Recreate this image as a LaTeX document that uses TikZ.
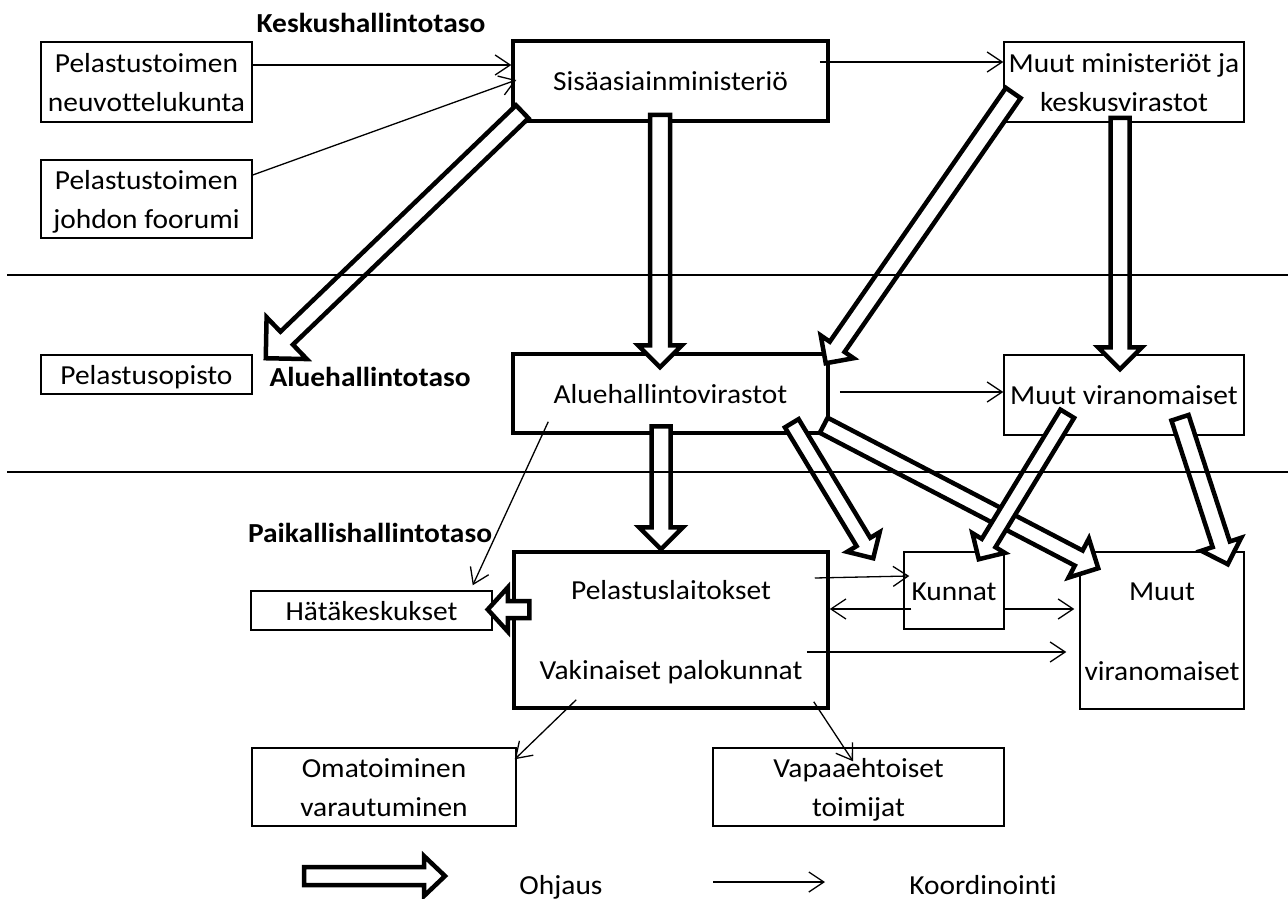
\documentclass[tikz,border=0pt]{standalone}
\usepackage{fontspec}
\setmainfont{Carlito}[FakeStretch=1.07,Ligatures=NoCommon]
\usetikzlibrary{calc,arrows.meta}
\newcommand{\zs}{\rule[-10pt]{0pt}{39pt}}
\newcommand{\blockarrow}[5]{%
  \draw[blockarr] let \p1=($(#2)-(#1)$), \n1={veclen(\x1,\y1)}, \n2={atan2(\y1,\x1)} in
    ([shift={(#1)},rotate=\n2]0pt,#3pt)
 -- ([shift={(#1)},rotate=\n2]{\n1-#5pt},#3pt)
 -- ([shift={(#1)},rotate=\n2]{\n1-#5pt},#4pt)
 -- ([shift={(#1)},rotate=\n2]{\n1-0pt},0pt)
 -- ([shift={(#1)},rotate=\n2]{\n1-#5pt},-#4pt)
 -- ([shift={(#1)},rotate=\n2]{\n1-#5pt},-#3pt)
 -- ([shift={(#1)},rotate=\n2]0pt,-#3pt) -- cycle;}
\begin{document}
\begin{tikzpicture}[x=1pt,y=-1pt,
  txt/.style={font=\fontsize{27.5pt}{39pt}\selectfont, inner sep=0pt, align=center},
  lvl/.style={txt, font=\fontsize{27.5pt}{39pt}\selectfont\bfseries},
  thinbox/.style={txt, draw, rectangle, line width=1.5pt},
  thickbox/.style={txt, draw, rectangle, line width=3.5pt},
  coord/.style={line width=1.3pt, -{Straight Barb[length=15pt,width=20pt]}},
  blockarr/.style={line width=4.5pt, draw=black, fill=white, line join=miter, miter limit=10},
  sep/.style={line width=1.5pt}]
\fill[white] (0,0) rectangle (1288,899);
\useasboundingbox (0,0) rectangle (1288,899);

% level labels
\node[lvl] (kesk) at (371,23) {\zs Keskushallintotaso};
\node[lvl] (alue) at (370,377) {\zs Aluehallintotaso};
\node[lvl] (paik) at (370,533) {\zs Paikallishallintotaso};

% boxes
\node[thinbox, minimum width=211pt, minimum height=80pt] (neuv) at (146.5,82) {\zs Pelastustoimen\\\zs neuvottelukunta};
\node[thinbox, minimum width=211pt, minimum height=78pt] (foor) at (146.5,199) {\zs Pelastustoimen\\\zs johdon foorumi};
\node[thinbox, minimum width=211pt, minimum height=39pt] (opisto) at (146.5,374.5) {\zs Pelastusopisto};
\node[thickbox, minimum width=315pt, minimum height=80pt] (sm) at (670.5,81) {\zs Sisäasiainministeriö};
\node[thinbox, minimum width=240pt, minimum height=80pt] (mm) at (1124,82) {\zs Muut ministeriöt ja\\\zs keskusvirastot};
\node[thickbox, minimum width=315pt, minimum height=79pt] (av) at (670.5,393.5) {\zs Aluehallintovirastot};
\node[thinbox, minimum width=240pt, minimum height=80pt] (mv) at (1124,395) {\zs Muut viranomaiset};
\node[thinbox, minimum width=241pt, minimum height=39pt] (hk) at (371.5,610.5) {\zs Hätäkeskukset};
\node[thickbox, minimum width=314pt, minimum height=156pt] (pl) at (671,630) {\zs Pelastuslaitokset\\[41pt]\zs Vakinaiset palokunnat};
\node[thinbox, minimum width=100pt, minimum height=77pt] (ku) at (954,590.5) {\zs Kunnat};
\node[thinbox, minimum width=164pt, minimum height=157pt] (mu) at (1162,630.5) {\zs Muut\\[41pt]\zs viranomaiset};
\node[thinbox, minimum width=264pt, minimum height=78pt] (om) at (384,787) {\zs Omatoiminen\\\zs varautuminen};
\node[thinbox, minimum width=291pt, minimum height=78pt] (va) at (858.5,787) {\zs Vapaaehtoiset\\\zs toimijat};

% legend texts
\node[txt] (ohj) at (561,885) {\zs Ohjaus};
\node[txt] (koo) at (983,885) {\zs Koordinointi};

% block arrow end points
\coordinate (b1s) at ($(sm.south west)+(11,-11)$);
\coordinate (b1e) at ($(opisto.north east)+(13,4)$);
\coordinate (b2s) at ($(sm.south)+(-10.5,-8)$);
\coordinate (b2e) at ($(av.north)+(-10.5,15)$);
\coordinate (b3s) at ($(mm.west)+(10,11)$);
\coordinate (b3e) at ($(av.north east)+(-4,11)$);
\coordinate (b4s) at ($(mm.south)+(-4,-5)$);
\coordinate (b4e) at ($(mv.north)+(-4,15)$);
\coordinate (b5s) at ($(av.south)+(-9.5,-8.5)$);
\coordinate (b5e) at ($(pl.north)+(-10,-1)$);
\coordinate (b6s) at ($(pl.west)+(17,-20.5)$);
\coordinate (b6e) at ($(hk.east)+(-5,-1)$);
\coordinate (b7s) at ($(av.south east)+(-38,-11.5)$);
\coordinate (b7e) at ($(ku.north west)+(-30,7)$);
\coordinate (b8s) at ($(av.south east)+(-6,-9.5)$);
\coordinate (b8e) at ($(mu.north west)+(19,17)$);
\coordinate (b9s) at ($(mv.south west)+(64,-22)$);
\coordinate (b9e) at ($(ku.north east)+(-26,8)$);
\coordinate (b10s) at ($(mv.south)+(56,-18)$);
\coordinate (b10e) at ($(mu.north east)+(-17,13)$);
\coordinate (lgs) at (304,876);
\coordinate (lge) at (445,876);

% block arrows (Ohjaus)
\blockarrow{b1s}{b1e}{9}{29}{29}
\blockarrow{b2s}{b2e}{10}{22}{22}
\blockarrow{b3s}{b3e}{9}{20}{20}
\blockarrow{b4s}{b4e}{9.5}{22}{22}
\blockarrow{b5s}{b5e}{9.5}{22}{22}
\blockarrow{b6s}{b6e}{8.5}{22}{20}
\blockarrow{b7s}{b7e}{8}{19}{19}
\blockarrow{b8s}{b8e}{8.5}{22}{22}
\blockarrow{b9s}{b9e}{8}{19}{19}
\blockarrow{b10s}{b10e}{9}{21}{21}
\blockarrow{lgs}{lge}{9}{20}{21}

% coordination arrows
\draw[coord] ([yshift=17pt]neuv.east) -- ([yshift=16pt]sm.west);
\draw[coord] ([yshift=24pt]foor.east) -- ([xshift=5pt,yshift=1pt]sm.west);
\draw[coord] ([xshift=-10pt,yshift=19pt]sm.east) -- ([yshift=20pt]mm.west);
\draw[coord] ([xshift=10pt,yshift=1.5pt]av.east) -- ([yshift=3pt]mv.west);
\draw[coord] ([xshift=37pt,yshift=13pt]av.south west) -- ([xshift=-20pt,yshift=5pt]hk.north east);
\draw[coord] ([xshift=-15pt,yshift=52pt]pl.east) -- ([xshift=6pt,yshift=14.5pt]ku.west);
\draw[coord] ([xshift=8pt,yshift=-18.5pt]ku.west) -- ([yshift=21pt]pl.east);
\draw[coord] ([yshift=-18.5pt]ku.east) -- ([xshift=-5pt,yshift=21.5pt]mu.west);
\draw[coord] ([xshift=-23pt,yshift=-22pt]pl.east) -- ([xshift=-13pt,yshift=-21.5pt]mu.west);
\draw[coord] ([xshift=64pt,yshift=10pt]pl.south west) -- ([xshift=-2pt,yshift=-12pt]om.north east);
\draw[coord] ([xshift=-16pt,yshift=8pt]pl.south east) -- ([xshift=-5.5pt,yshift=-14pt]va.north);
\coordinate (lk1) at (713,882);
\coordinate (lk2) at (825,882);
\draw[coord] (lk1) -- (lk2);

% level separators
\coordinate (s1a) at (7,275);
\coordinate (s1b) at (1288,275);
\coordinate (s2a) at (7,472);
\coordinate (s2b) at (1288,472);
\draw[sep] (s1a) -- (s1b);
\draw[sep] (s2a) -- (s2b);
\end{tikzpicture}
\end{document}
